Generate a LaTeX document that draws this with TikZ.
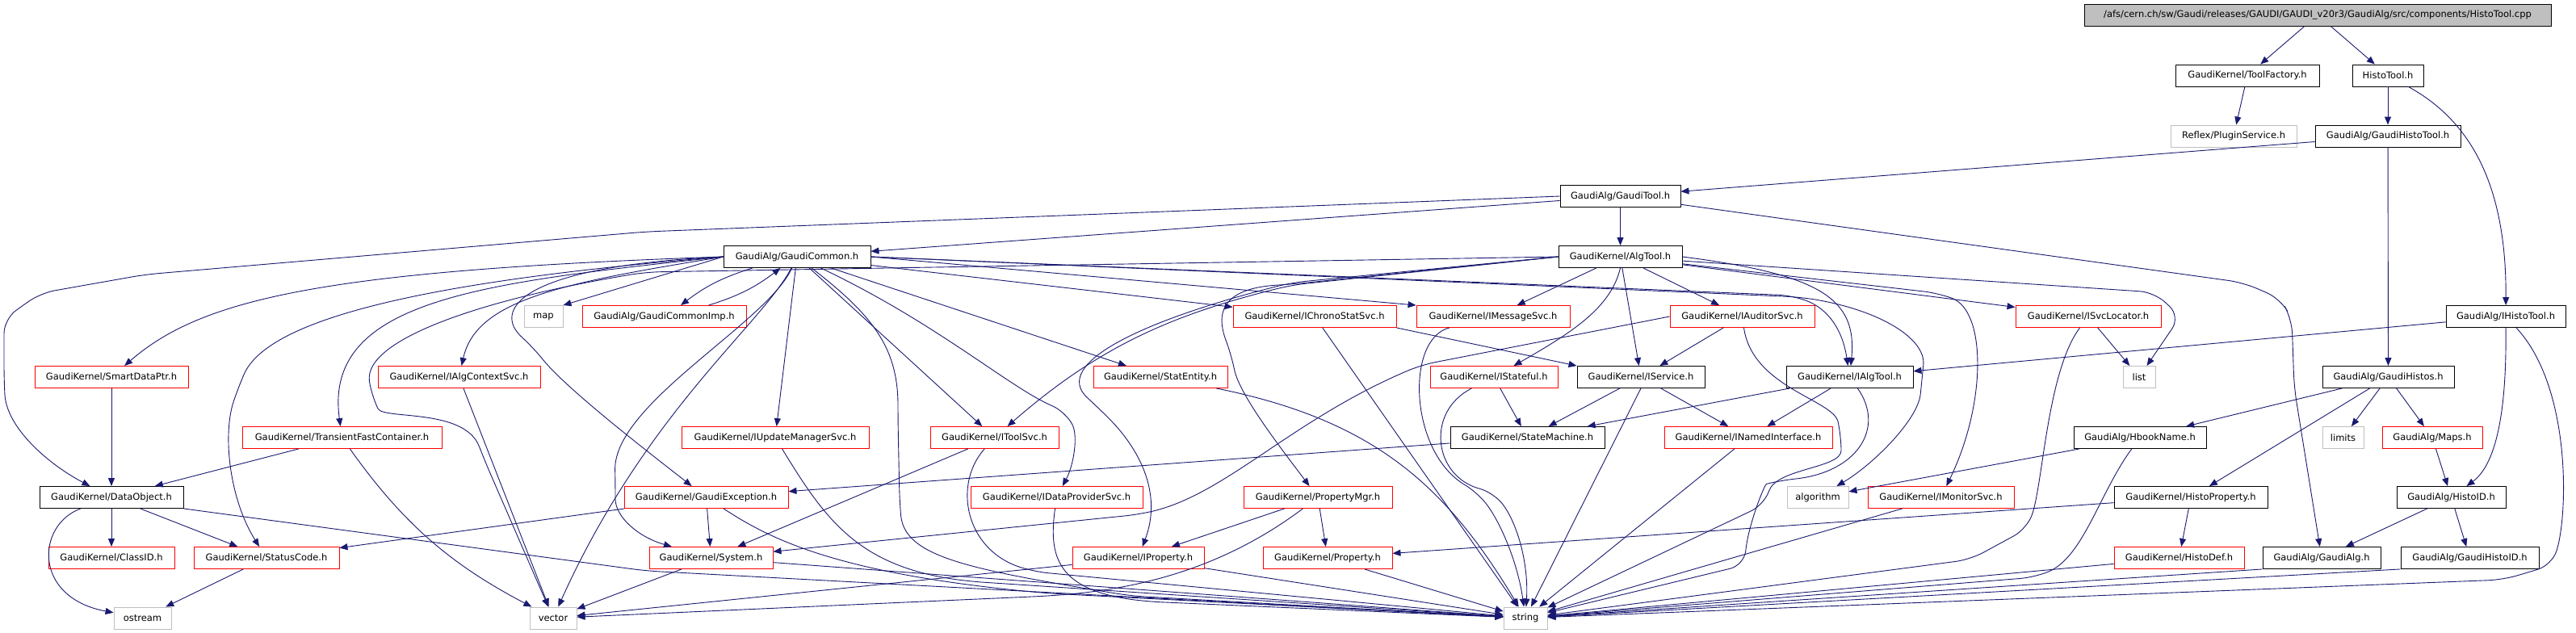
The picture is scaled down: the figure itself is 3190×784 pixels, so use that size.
\documentclass[tikz,border=0pt]{standalone}
\usepackage{fontspec}
\setmainfont{DejaVu Sans}
\usepackage{tikz}
\usetikzlibrary{arrows.meta}
\definecolor{inclblue}{HTML}{191970}
\definecolor{sysgray}{HTML}{BFBFBF}

\begin{document}
\begin{tikzpicture}[x=1pt,y=-1pt,
    file/.style={draw=black,line width=0.9pt,minimum height=27pt,inner sep=0pt,
      font=\fontsize{11.5}{13}\selectfont},
    filered/.style={file,draw=red},
    filesys/.style={file,draw=sysgray},
    incl/.style={draw=inclblue,line width=0.9pt,rounded corners=18pt,
      -{Triangle[length=10pt,width=8pt]}}]
      \useasboundingbox (0,0) rectangle (3190,784);
      % Source file
      \node[file,fill=sysgray,minimum width=578] (cpp) at (2870,18.5)
        {/afs/cern.ch/sw/Gaudi/releases/GAUDI/GAUDI\_v20r3/GaudiAlg/src/components/HistoTool.cpp};
      \node[file,minimum width=178] (toolfactory) at (2783,93.5) {GaudiKernel/ToolFactory.h};
      \node[file,minimum width=88] (histotool) at (2957,93.5) {HistoTool.h};
      \node[filesys,minimum width=156] (pluginsvc) at (2766,168.5) {Reflex/PluginService.h};
      \node[file,minimum width=180] (gaudihistotool) at (2957,168.5) {GaudiAlg/GaudiHistoTool.h};
      \node[file,minimum width=149] (gauditool) at (2006.5,243) {GaudiAlg/GaudiTool.h};
      \node[file,minimum width=182] (gaudicommon) at (987,318) {GaudiAlg/GaudiCommon.h};
      \node[file,minimum width=153] (algtool) at (2006.5,318) {GaudiKernel/AlgTool.h};
      % Row 6
      \node[filesys,minimum width=48] (map) at (673,392) {map};
      \node[filered,minimum width=203] (gaudicommonimp) at (822.5,392) {GaudiAlg/GaudiCommonImp.h};
      \node[filered,minimum width=202] (ichronostatsvc) at (1628,392) {GaudiKernel/IChronoStatSvc.h};
      \node[filered,minimum width=190] (imessagesvc) at (1849,392) {GaudiKernel/IMessageSvc.h};
      \node[filered,minimum width=179] (iauditorsvc) at (2157.5,392) {GaudiKernel/IAuditorSvc.h};
      \node[filered,minimum width=180] (isvclocator) at (2586,392) {GaudiKernel/ISvcLocator.h};
      \node[file,minimum width=148] (ihistotool) at (3103,392) {GaudiAlg/IHistoTool.h};
      % Row 7
      \node[filered,minimum width=190] (smartdataptr) at (138,467) {GaudiKernel/SmartDataPtr.h};
      \node[filered,minimum width=201] (ialgcontextsvc) at (568.5,467) {GaudiKernel/IAlgContextSvc.h};
      \node[filered,minimum width=166] (statentity) at (1437,467) {GaudiKernel/StatEntity.h};
      \node[filered,minimum width=158] (istateful) at (1850,467) {GaudiKernel/IStateful.h};
      \node[file,minimum width=158] (iservice) at (2032,467) {GaudiKernel/IService.h};
      \node[file,minimum width=157] (ialgtool) at (2290.5,467) {GaudiKernel/IAlgTool.h};
      \node[filesys,minimum width=40] (list) at (2649,467) {list};
      \node[file,minimum width=163] (gaudihistos) at (2957.5,467) {GaudiAlg/GaudiHistos.h};
      % Row 8
      \node[filered,minimum width=247] (transientfast) at (423.5,542) {GaudiKernel/TransientFastContainer.h};
      \node[filered,minimum width=232] (iupdatemgr) at (960,542) {GaudiKernel/IUpdateManagerSvc.h};
      \node[filered,minimum width=159] (itoolsvc) at (1231.5,542) {GaudiKernel/IToolSvc.h};
      \node[file,minimum width=191] (statemachine) at (1891.5,542) {GaudiKernel/StateMachine.h};
      \node[filered,minimum width=208] (inamedif) at (2165,542) {GaudiKernel/INamedInterface.h};
      \node[file,minimum width=164] (hbookname) at (2650,542) {GaudiAlg/HbookName.h};
      \node[filesys,minimum width=51] (limits) at (2901.5,542) {limits};
      \node[filered,minimum width=124] (maps) at (3012,542) {GaudiAlg/Maps.h};
      % Row 9
      \node[file,minimum width=178] (dataobject) at (138,616) {GaudiKernel/DataObject.h};
      \node[filered,minimum width=203] (gaudiexception) at (874.5,616) {GaudiKernel/GaudiException.h};
      \node[filered,minimum width=213] (idataprovider) at (1308.5,616) {GaudiKernel/IDataProviderSvc.h};
      \node[filered,minimum width=184] (propertymgr) at (1632,616) {GaudiKernel/PropertyMgr.h};
      \node[filesys,minimum width=76] (algorithm) at (2251,616) {algorithm};
      \node[filered,minimum width=181] (imonitorsvc) at (2403.5,616) {GaudiKernel/IMonitorSvc.h};
      \node[file,minimum width=190] (histoproperty) at (2713,616) {GaudiKernel/HistoProperty.h};
      \node[file,minimum width=135] (histoid) at (3035.5,616) {GaudiAlg/HistoID.h};
      % Row 10
      \node[filered,minimum width=156] (classid) at (138,691) {GaudiKernel/ClassID.h};
      \node[filered,minimum width=180] (statuscode) at (330,691) {GaudiKernel/StatusCode.h};
      \node[filered,minimum width=153] (system) at (880.5,691) {GaudiKernel/System.h};
      \node[filered,minimum width=163] (iproperty) at (1409.5,691) {GaudiKernel/IProperty.h};
      \node[filered,minimum width=160] (property) at (1644,691) {GaudiKernel/Property.h};
      \node[filered,minimum width=161] (histodef) at (2698.5,691) {GaudiKernel/HistoDef.h};
      \node[file,minimum width=146] (gaudialg) at (2875,691) {GaudiAlg/GaudiAlg.h};
      \node[file,minimum width=171] (gaudihistoid) at (3058.5,691) {GaudiAlg/GaudiHistoID.h};
      % Row 11
      \node[filesys,minimum width=71] (ostream) at (176.5,765.5) {ostream};
      \node[filesys,minimum width=58] (vector) at (685,765.5) {vector};
      \node[filesys,minimum width=54] (string) at (1889,765.5) {string};

      % Top
      \draw[incl] (cpp) -- (toolfactory);
      \draw[incl] (cpp) -- (histotool);
      \draw[incl] (toolfactory) -- (pluginsvc);
      \draw[incl] (histotool) -- (gaudihistotool);
      \draw[incl] (histotool) .. controls (3060,150) and (3104,230) .. (ihistotool);
      \draw[incl] (gaudihistotool) -- (gauditool);
      \draw[incl] (gaudihistotool) -- (gaudihistos);
      % GaudiTool
      \draw[incl] (gauditool) -- (gaudicommon);
      \draw[incl] (gauditool) -- (algtool);
      \draw[incl] (gauditool.west) -- (800,287) -- (180,340) -- (50,363) -- (5,395) -- (5,470)
        .. controls (8,530) and (60,575) .. (dataobject);
      \draw[incl] (gauditool) -- (2778,350) -- (2824,370) -- (2838,395) -- (2841,480) -- (gaudialg);
      % GaudiCommon
      \draw[incl] (gaudicommon.west) -- (map.north east);
      \draw[incl] (gaudicommon) to[bend right=10] (gaudicommonimp);
      \draw[incl] (gaudicommonimp) to[bend right=10] (gaudicommon);
      \draw[incl] (gaudicommon.west) .. controls (400,335) and (250,370) .. (smartdataptr);
      \draw[incl] (gaudicommon.west) .. controls (500,350) and (330,400) .. (295,480)
        .. controls (275,540) and (285,620) .. (statuscode);
      \draw[incl] (gaudicommon.west) .. controls (600,350) and (400,370) .. (transientfast);
      \draw[incl] (gaudicommon.west) .. controls (700,350) and (590,370) .. (ialgcontextsvc);
      \draw[incl] (gaudicommon.west) .. controls (640,330) and (610,385) .. (660,430)
        .. controls (700,480) and (790,550) .. (gaudiexception);
      \draw[incl] (gaudicommon) .. controls (945,400) and (800,510) .. (vector);
      \draw[incl] (gaudicommon) .. controls (950,400) and (760,500) .. (762,600)
        .. controls (762,640) and (790,665) .. (system);
      \draw[incl] (gaudicommon) -- (iupdatemgr);
      \draw[incl] (gaudicommon) -- (itoolsvc);
      \draw[incl] (gaudicommon) .. controls (1080,390) and (1112,430) .. (1112,520) -- (1114,620)
        .. controls (1120,690) and (1200,705) .. (1400,738) -- (string);
      \draw[incl] (gaudicommon) .. controls (1160,400) and (1250,480) .. (1320,510)
        .. controls (1335,540) and (1330,575) .. (idataprovider);
      \draw[incl] (gaudicommon) -- (statentity);
      \draw[incl] (gaudicommon) -- (ichronostatsvc);
      \draw[incl] (gaudicommon.east) -- (imessagesvc.north west);
      \draw[incl] (gaudicommon.east) -- (2220,366) .. controls (2265,383) and (2282,410) .. (ialgtool);
      \draw[incl] (gaudicommon.east) -- (2230,368) .. controls (2330,385) and (2385,420) .. (2380,470)
        .. controls (2375,520) and (2320,575) .. (algorithm);
      % AlgTool
      \draw[incl] (algtool) -- (imessagesvc);
      \draw[incl] (algtool.south) .. controls (1995,380) and (1950,410) .. (istateful);
      \draw[incl] (algtool) -- (iservice);
      \draw[incl] (algtool) -- (iauditorsvc);
      \draw[incl] (algtool.east) .. controls (2255,340) and (2300,370) .. (ialgtool);
      \draw[incl] (algtool) -- (2668,362) -- (2700,392) -- (list);
      \draw[incl] (algtool) -- (isvclocator);
      \draw[incl] (algtool) -- (2400,363) .. controls (2460,385) and (2460,500) .. (imonitorsvc);
      \draw[incl] (algtool.west) -- (1600,353) .. controls (1450,390) and (1360,430) .. (itoolsvc);
      \draw[incl] (algtool.west) -- (1600,350) .. controls (1420,395) and (1300,450) .. (1360,505)
        .. controls (1410,555) and (1440,610) .. (iproperty);
      \draw[incl] (algtool.west) -- (1600,352) .. controls (1500,358) and (1510,400) .. (1525,440)
        .. controls (1535,490) and (1590,560) .. (propertymgr);
      \draw[incl] (algtool.west) -- (800,337) .. controls (600,370) and (450,420) .. (460,490)
        .. controls (475,520) and (575,505) .. (600,570) -- (vector);
      % DataObject and friends
      \draw[incl] (smartdataptr) -- (dataobject);
      \draw[incl] (transientfast) -- (dataobject);
      \draw[incl] (transientfast) .. controls (500,650) and (560,700) .. (vector);
      \draw[incl] (ialgcontextsvc) -- (vector);
      \draw[incl] (dataobject) -- (classid);
      \draw[incl] (dataobject) -- (statuscode);
      \draw[incl] (dataobject) .. controls (45,650) and (40,740) .. (ostream);
      \draw[incl] (dataobject.south east) -- (800,707) -- (string);
      \draw[incl] (statuscode) -- (ostream);
      \draw[incl] (gaudiexception) -- (statuscode);
      \draw[incl] (gaudiexception) -- (system);
      \draw[incl] (gaudiexception) .. controls (950,665) and (1030,710) .. (1300,735) -- (string);
      \draw[incl] (system) -- (string);
      \draw[incl] (system) -- (vector);
      \draw[incl] (iupdatemgr) .. controls (1020,640) and (1060,700) .. (1200,720) -- (string);
      \draw[incl] (itoolsvc) -- (system);
      \draw[incl] (itoolsvc) .. controls (1180,600) and (1195,680) .. (1280,708) -- (string);
      \draw[incl] (idataprovider) .. controls (1298,690) and (1310,730) .. (1420,745) -- (string);
      \draw[incl] (statentity) .. controls (1700,520) and (1790,600) .. (string);
      % Services
      \draw[incl] (ichronostatsvc) -- (string);
      \draw[incl] (ichronostatsvc.south east) -- (iservice.north west);
      \draw[incl] (imessagesvc) .. controls (1740,420) and (1745,560) .. (1830,610)
        .. controls (1860,650) and (1880,700) .. (string);
      \draw[incl] (istateful) -- (statemachine);
      \draw[incl] (istateful) .. controls (1765,510) and (1775,590) .. (1850,610)
        .. controls (1880,650) and (1893,700) .. (string);
      \draw[incl] (iservice) -- (statemachine);
      \draw[incl] (iservice) -- (inamedif);
      \draw[incl] (iservice.south) -- (string);
      \draw[incl] (ialgtool) -- (statemachine);
      \draw[incl] (ialgtool) -- (inamedif);
      \draw[incl] (ialgtool) .. controls (2335,530) and (2300,585) .. (2205,595)
        .. controls (2185,600) and (2165,650) .. (2160,700) -- (string);
      \draw[incl] (iauditorsvc) .. controls (2170,480) and (2270,495) .. (2280,540)
        .. controls (2280,580) and (2200,580) .. (2185,625) -- (string);
      \draw[incl] (iauditorsvc) -- (iservice);
      \draw[incl] (iauditorsvc.west) -- (1760,452) .. controls (1600,520) and (1520,610) .. (1412,637)
        -- (system);
      \draw[incl] (statemachine) -- (gaudiexception);
      \draw[incl] (inamedif) -- (string);
      \draw[incl] (propertymgr) -- (iproperty);
      \draw[incl] (propertymgr) -- (property);
      \draw[incl] (propertymgr) .. controls (1520,700) and (1420,728) .. (1300,738) -- (vector);
      \draw[incl] (iproperty) -- (string);
      \draw[incl] (iproperty) -- (vector);
      \draw[incl] (property) -- (string);
      \draw[incl] (isvclocator) -- (list);
      \draw[incl] (isvclocator) .. controls (2535,460) and (2530,600) .. (2510,655) -- (2440,693) -- (string);
      \draw[incl] (imonitorsvc) -- (string);
      % Histos
      \draw[incl] (ihistotool) -- (ialgtool);
      \draw[incl] (ihistotool.south) .. controls (3104,480) and (3098,570) .. (histoid);
      \draw[incl] (ihistotool) .. controls (3185,480) and (3180,640) .. (3160,700) -- (3100,718) -- (string);
      \draw[incl] (gaudihistos) -- (hbookname);
      \draw[incl] (gaudihistos) -- (histoproperty);
      \draw[incl] (gaudihistos) -- (limits);
      \draw[incl] (gaudihistos) -- (maps);
      \draw[incl] (hbookname) -- (algorithm);
      \draw[incl] (hbookname) .. controls (2600,610) and (2580,690) .. (2520,715) -- (string);
      \draw[incl] (histoproperty) -- (histodef);
      \draw[incl] (histoproperty) -- (property);
      \draw[incl] (maps) -- (histoid);
      \draw[incl] (histoid) -- (gaudialg);
      \draw[incl] (histoid) -- (gaudihistoid);
      \draw[incl] (histodef) -- (string);
      \draw[incl] (gaudialg.south west) -- (string);
      \draw[incl] (gaudihistoid.south west) -- (string);
    \end{tikzpicture}
\end{document}
